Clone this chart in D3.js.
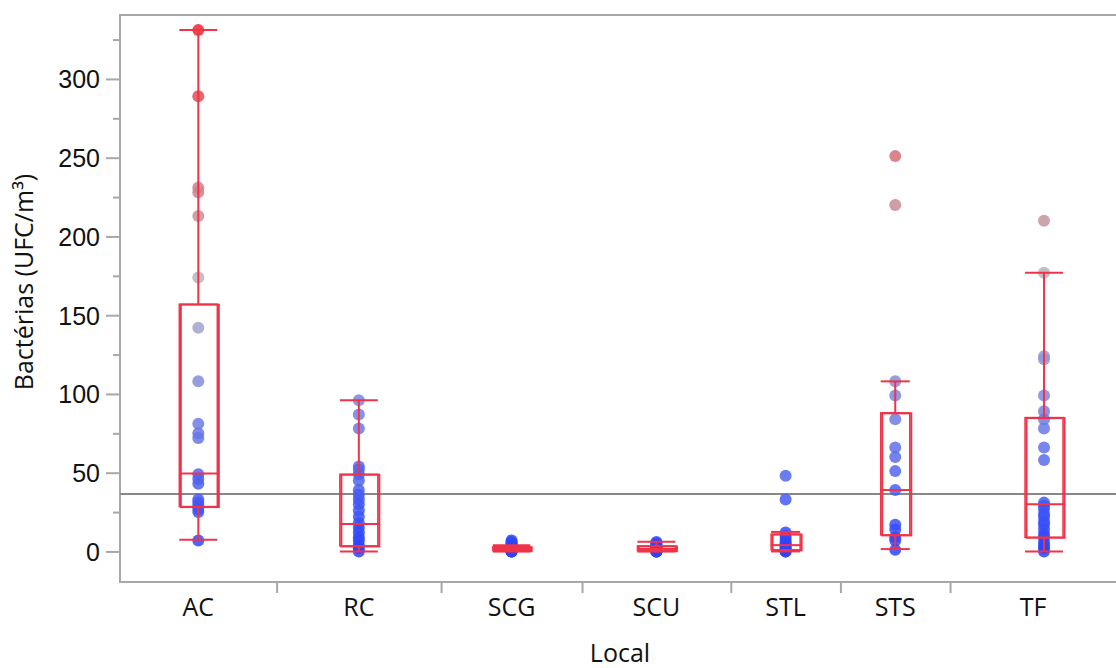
<!DOCTYPE html>
<html>
<head>
<meta charset="utf-8">
<script src="https://cdn.jsdelivr.net/npm/d3@7"></script>
<style>
  body { margin: 0; background: #fff; }
  svg { display: block; font-family: "Open Sans", "Noto Sans", sans-serif; }
  .axis text { font-size: 25px; fill: #111; }
  .axis path { display: none; }
  .axis line { stroke: #a8a8a8; stroke-width: 2; }
</style>
</head>
<body>
<div id="graph"></div>
<script>
// grupos (Local) y valores
var categories = ["AC", "RC", "SCG", "SCU", "STL", "STS", "TF"];

var valAC  = [331, 289, 231, 228, 213, 174, 142, 108, 81, 75, 72, 49, 46, 43, 33, 31, 29, 27, 25, 7];
var valRC  = [96, 87, 78, 54, 52, 49, 45, 39, 36, 33, 30, 26, 22, 18, 15, 12, 9, 7, 4, 2, 0];
var valSCG = [7, 6, 5, 5, 4, 3, 3, 2, 2, 2, 1, 1, 1, 1, 0, 0, 0, 0];
var valSCU = [6, 5, 4, 4, 3, 3, 2, 2, 2, 2, 1, 1, 1, 1, 1, 0, 0, 0, 0];
var valSTL = [48, 33, 12, 10, 8, 6, 5, 4, 3, 2, 1, 1, 0, 0];
var valSTS = [251, 220, 108, 99, 84, 66, 60, 51, 39, 17, 14, 9, 7, 1];
var valTF  = [210, 177, 124, 122, 99, 89, 84, 78, 66, 58, 31, 29, 27, 24, 22, 19, 17, 14, 11, 9, 6, 4, 2, 0];

// caixas (quantis e bigodes) como aparecem no grafico
var boxLo  = [7.5, 0, 0, 0, 0, 1.5, 0];
var boxQ1  = [28.5, 3.5, 0.5, 0.5, 1, 10.5, 9];
var boxMed = [49.5, 17.5, 1.5, 1.5, 4, 39, 30];
var boxQ3  = [157, 49, 3, 3.5, 11, 88, 85];
var boxHi  = [331, 96, 4, 6.2, 12.4, 108, 177];

var grandMean = 36.5;
var yMajor = [0, 50, 100, 150, 200, 250, 300];
var yMinor = [25, 75, 125, 175, 225, 275, 325];

var groups = [valAC, valRC, valSCG, valSCU, valSTL, valSTS, valTF];

var width = 1116, height = 668;
var plotLeft = 120, plotTop = 15, plotBottom = 582, xEnd = 1138;

var svg = d3.select("#graph").append("svg")
  .attr("width", width)
  .attr("height", height);

var yScale = d3.scaleLinear().domain([-19.4, 340.6]).range([plotBottom, plotTop]);

// largura de cada grupo proporcional ao n
var counts = groups.map(g => g.length);
var cum = [0];
counts.forEach((c, i) => cum.push(cum[i] + c));
var xScale = d3.scaleLinear().domain([0, cum[cum.length - 1]]).range([plotLeft, xEnd]);

var bands = categories.map((c, i) => {
  var x0 = xScale(cum[i]), x1 = xScale(cum[i + 1]);
  return { name: c, i: i, x0: x0, x1: x1, mid: (x0 + x1) / 2,
           bw: Math.min(38, 0.265 * (x1 - x0)) };
});

var color = d3.scaleLinear()
  .domain([0, 170, 331])
  .range(["#2a44ff", "#b8b8c2", "#ee2630"])
  .clamp(true);

var red = "#ef3349";

// Eje Y
svg.append("g")
  .attr("class", "axis")
  .attr("transform", "translate(" + plotLeft + ",0)")
  .call(d3.axisLeft(yScale).tickValues(yMajor).tickSize(14).tickPadding(6))
  .selectAll("text").attr("dy", "0.36em");

svg.append("g")
  .attr("class", "axis")
  .attr("transform", "translate(" + plotLeft + ",0)")
  .call(d3.axisLeft(yScale).tickValues(yMinor).tickSize(7).tickFormat(""));

// Eje X: separadores entre grupos
svg.append("g")
  .attr("class", "axis")
  .attr("transform", "translate(0," + plotBottom + ")")
  .call(d3.axisBottom(xScale).tickValues(cum.slice(1, -1)).tickSize(11).tickFormat(""));

svg.append("g")
  .selectAll("text")
  .data(bands)
  .join("text")
  .attr("x", d => (d.x0 + Math.min(d.x1, width)) / 2)
  .attr("y", 616)
  .attr("text-anchor", "middle")
  .style("font-size", "25px")
  .style("fill", "#111")
  .text(d => d.name);

// marco
var frame = svg.append("g").attr("stroke", "#a8a8a8").attr("stroke-width", 2);
frame.append("line").attr("x1", plotLeft).attr("x2", plotLeft).attr("y1", plotTop - 1).attr("y2", plotBottom + 1);
frame.append("line").attr("x1", plotLeft).attr("x2", width).attr("y1", plotTop).attr("y2", plotTop);
frame.append("line").attr("x1", plotLeft).attr("x2", width).attr("y1", plotBottom).attr("y2", plotBottom);

// linea de media
svg.append("line")
  .attr("x1", plotLeft).attr("x2", width)
  .attr("y1", yScale(grandMean)).attr("y2", yScale(grandMean))
  .attr("stroke", "#888").attr("stroke-width", 2);

// puntos
var pts = [];
groups.forEach((g, i) => g.forEach(v => pts.push({ i: i, v: v })));
svg.append("g")
  .selectAll("circle")
  .data(pts)
  .join("circle")
  .attr("cx", d => bands[d.i].mid)
  .attr("cy", d => yScale(d.v))
  .attr("r", 6)
  .attr("fill", d => color(d.v))
  .attr("fill-opacity", 0.85);

// cajas
var bx = svg.append("g").attr("fill", "none").attr("stroke", red);
bands.forEach((b, i) => {
  var hw = b.bw / 2;
  var g = bx.append("g");
  // bigotes
  g.append("line").attr("x1", b.mid).attr("x2", b.mid)
    .attr("y1", yScale(boxQ3[i])).attr("y2", yScale(boxHi[i])).attr("stroke-width", 2);
  g.append("line").attr("x1", b.mid).attr("x2", b.mid)
    .attr("y1", yScale(boxQ1[i])).attr("y2", yScale(boxLo[i])).attr("stroke-width", 2);
  g.append("line").attr("x1", b.mid - hw).attr("x2", b.mid + hw)
    .attr("y1", yScale(boxHi[i])).attr("y2", yScale(boxHi[i])).attr("stroke-width", 2);
  g.append("line").attr("x1", b.mid - hw).attr("x2", b.mid + hw)
    .attr("y1", yScale(boxLo[i])).attr("y2", yScale(boxLo[i])).attr("stroke-width", 2);
  // caja
  g.append("rect")
    .attr("x", b.mid - hw).attr("width", b.bw)
    .attr("y", yScale(boxQ3[i])).attr("height", yScale(boxQ1[i]) - yScale(boxQ3[i]))
    .attr("stroke-width", 1.5);
  g.append("rect")
    .attr("x", b.mid - hw + 1.5).attr("width", b.bw)
    .attr("y", yScale(boxQ3[i]) + 0.5).attr("height", yScale(boxQ1[i]) - yScale(boxQ3[i]))
    .attr("stroke-width", 2);
  g.append("line").attr("x1", b.mid - hw).attr("x2", b.mid + hw + 1.5)
    .attr("y1", yScale(boxMed[i])).attr("y2", yScale(boxMed[i])).attr("stroke-width", 2);
});

// titulos
svg.append("text")
  .attr("transform", "translate(33,282) rotate(-90)")
  .attr("text-anchor", "middle")
  .style("font-size", "25px")
  .style("fill", "#111")
  .text("Bactérias (UFC/m³)");

svg.append("text")
  .attr("x", 620)
  .attr("y", 662)
  .attr("text-anchor", "middle")
  .style("font-size", "25px")
  .style("fill", "#111")
  .text("Local");
</script>
</body>
</html>
